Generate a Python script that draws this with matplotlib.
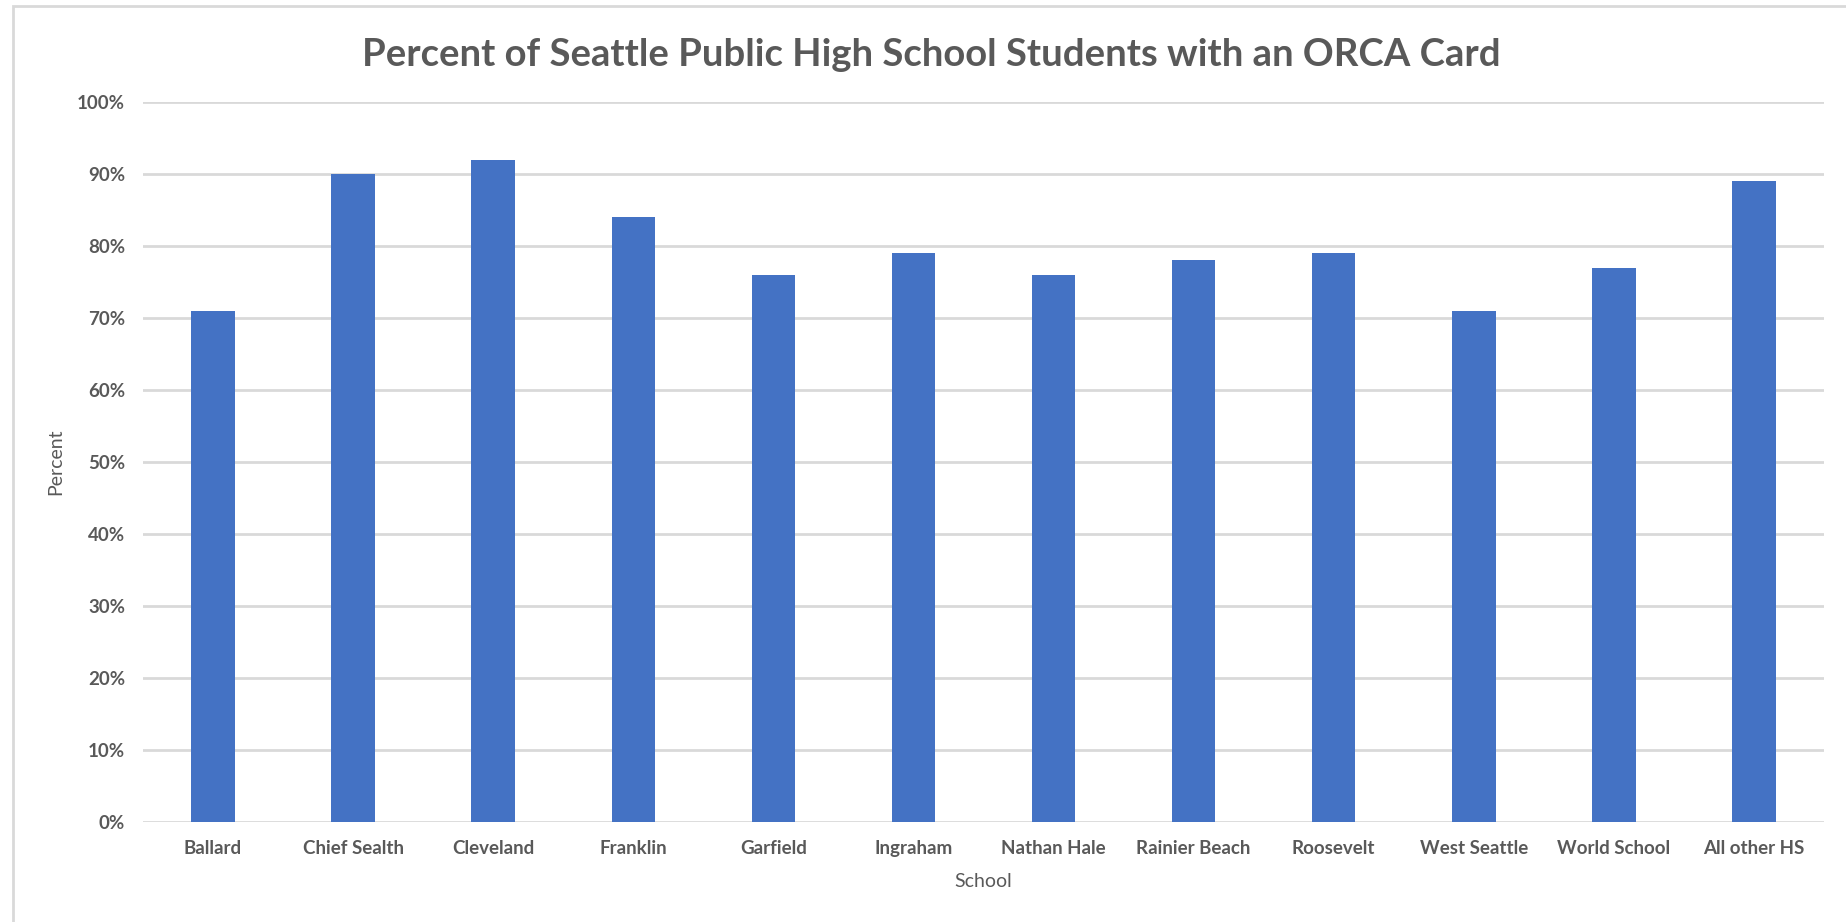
import matplotlib
matplotlib.use("Agg")
import matplotlib.pyplot as plt
from matplotlib.patches import Rectangle
import numpy as np

# dane
schools = ["Ballard", "Chief Sealth", "Cleveland", "Franklin", "Garfield", "Ingraham",
           "Nathan Hale", "Rainier Beach", "Roosevelt", "West Seattle", "World School", "All other HS"]
percent = [71, 90, 92, 84, 76, 79, 76, 78, 79, 71, 77, 89]
y_ticks = list(range(0, 101, 10))
y_tick_labels = [f"{v}%" for v in y_ticks]

BAR_COLOR = "#4472C4"
TEXT_COLOR = "#595959"
GRID_COLOR = "#D9D9D9"

plt.rcParams['font.family'] = ['Lato', 'DejaVu Sans']

W, H = 1846, 922
fig = plt.figure(figsize=(W / 100, H / 100), dpi=100)
ax = fig.add_axes([143 / W, 1 - 822 / H, (1824 - 143) / W, 720 / H])

x = np.arange(len(schools))
ax.bar(x, percent, width=0.31, color=BAR_COLOR, zorder=3)

ax.set_xlim(-0.5, len(schools) - 0.5)
ax.set_ylim(0, 100)
ax.set_yticks(y_ticks)
ax.set_yticklabels(y_tick_labels)
ax.set_xticks(x)
ax.set_xticklabels(schools)

for v in y_ticks:
    ax.axhline(v, color=GRID_COLOR, lw=2, zorder=1)

for s in ax.spines.values():
    s.set_visible(False)
ax.tick_params(axis='both', length=0, colors=TEXT_COLOR, labelsize=13.5)
ax.tick_params(axis='y', pad=13)
ax.tick_params(axis='x', pad=13)
for lbl in ax.get_xticklabels() + ax.get_yticklabels():
    lbl.set_fontweight('bold')

ax.set_xlabel("School", fontsize=14, color=TEXT_COLOR)
ax.set_ylabel("Percent", fontsize=14, color=TEXT_COLOR)
ax.xaxis.set_label_coords(0.5, -0.083)
ax.yaxis.set_label_coords(-0.0518, 0.5)
ax.xaxis.label.set_verticalalignment('center')
ax.yaxis.label.set_verticalalignment('center')

fig.text(931 / W, 1 - 55 / H, "Percent of Seattle Public High School Students with an ORCA Card",
         ha='center', va='center', fontsize=27.5, fontweight='bold', color=TEXT_COLOR)

# ramka wykresu (ucieta z prawej i od dolu)
fig.patches.append(Rectangle((13 / W, -0.05), 1.1, 1 - 6 / H + 0.05, transform=fig.transFigure,
                             fill=False, edgecolor=GRID_COLOR, lw=2))

fig.savefig("out.png", dpi=100, facecolor="white")
